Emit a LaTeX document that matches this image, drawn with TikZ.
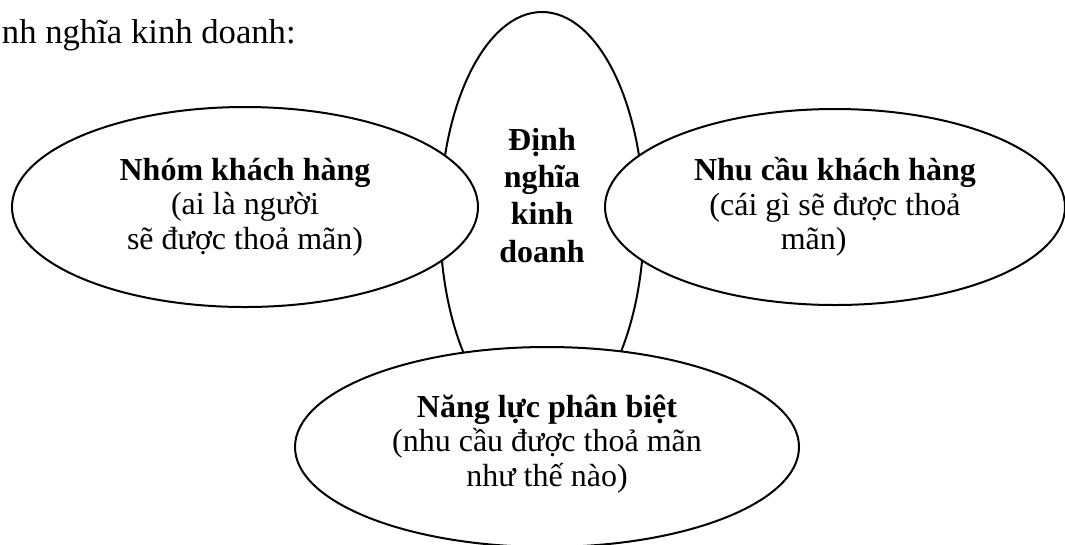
\documentclass[tikz,border=0pt]{standalone}
\usepackage{fontspec}
\setmainfont{Liberation Serif}
\usetikzlibrary{shapes.geometric}
\lineskiplimit=-\maxdimen
\begin{document}
\begin{tikzpicture}[x=0.375pt,y=-0.375pt,line width=0.75pt,
	vong/.style={ellipse,draw,fill=white,inner sep=0pt,align=center,font=\fontsize{12}{12.9}\selectfont}]
	\useasboundingbox (0,0) rectangle (1065,544);
	\node[anchor=base west,inner sep=0pt,font=\fontsize{13}{15}\selectfont] (tieude) at (1,43) {nh nghĩa kinh doanh:};
	% vong giua ve truoc, ba vong kia de len
	\node[vong,fill=none,minimum width=76.5pt,minimum height=156pt] (giua) at (542,220) {};
	\node[vong,minimum width=174.75pt,minimum height=75pt] (nhom) at (245,207)
		{\textbf{Nhóm khách hàng}\\(ai là người\\sẽ được thoả mãn)};
	\node[vong,minimum width=172.5pt,minimum height=73.5pt] (nhucau) at (835,207)
		{\textbf{Nhu cầu khách hàng}\\(cái gì sẽ được thoả\\mãn)\hspace*{16pt}};
	\node[vong,minimum width=189pt,minimum height=75pt] (nangluc) at (547,447)
		{\textbf{Năng lực phân biệt}\\(nhu cầu được thoả mãn\\như thế nào)\\[-8pt]};
	\node[align=center,font=\bfseries\fontsize{12}{13.9}\selectfont] (giuachu) at (542,195.5) {Định\\nghĩa\\kinh\\doanh};
\end{tikzpicture}
\end{document}
